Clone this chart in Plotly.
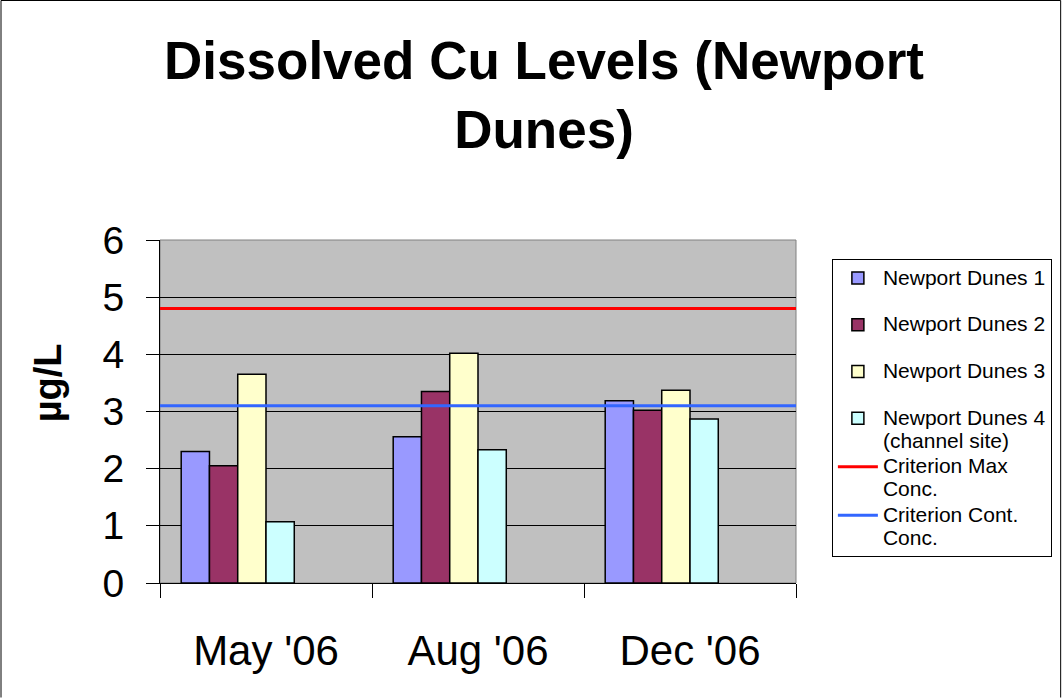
import plotly.graph_objects as go

months = ["May '06", "Aug '06", "Dec '06"]
nd1 = [2.30, 2.56, 3.19]
nd2 = [2.05, 3.35, 3.02]
nd3 = [3.65, 4.02, 3.37]
nd4 = [1.07, 2.33, 2.87]
crit_max = 4.8
crit_cont = 3.1

series_names = ["Newport Dunes 1", "Newport Dunes 2", "Newport Dunes 3",
                "Newport Dunes 4<br>(channel site)"]
series_vals = [nd1, nd2, nd3, nd4]
series_colors = ["#9999FF", "#993366", "#FFFFCC", "#CCFFFF"]
groups = ["g1", "g2", "g3", "g4"]

W, H = 1064, 698
L, R, T, B = 160, 266, 240, 115
PW, PH = W - L - R, H - T - B

LEG_SPAN = "<span style='font-size:21px'>{}</span>"

def leg(text):
    return "<br>".join(LEG_SPAN.format(t) for t in text.split("<br>"))

# Excel reserves 6 bar slots per category (the two criterion series occupy the last two)
slot_w = 0.8 / 6

fig = go.Figure()
for i, (name, vals, col, g) in enumerate(zip(series_names, series_vals, series_colors, groups)):
    fig.add_trace(go.Bar(x=months, y=vals, name=leg(name), legendgroup=g,
                         width=slot_w, offset=-0.4 + i * slot_w,
                         marker=dict(color=col, line=dict(color="#000000", width=1.5))))

fig.add_trace(go.Scatter(x=[0, 1], y=[crit_max, crit_max], mode="lines",
                         name=leg("Criterion Max<br>Conc."), legendgroup="g4",
                         xaxis="x2", line=dict(color="#FF0000", width=3)))
fig.add_trace(go.Scatter(x=[0, 1], y=[crit_cont, crit_cont], mode="lines",
                         name=leg("Criterion Cont.<br>Conc."), legendgroup="g4",
                         xaxis="x2", line=dict(color="#3366FF", width=3)))

def px(x):
    return (x - L) / PW

def py(y):
    return (H - B - y) / PH

fig.update_layout(
    width=W, height=H,
    margin=dict(l=L, r=R, t=T, b=B, pad=0),
    paper_bgcolor="white",
    plot_bgcolor="#C0C0C0",
    font=dict(family="Liberation Sans, Arial, sans-serif", color="black"),
    title=dict(text="<b>Dissolved Cu Levels (Newport<br>Dunes)</b>",
               font=dict(size=53, color="black"),
               x=544 / W, xanchor="center", xref="container",
               y=1 - 79 / H, yanchor="top", yref="container"),
    barmode="overlay",
    xaxis=dict(type="category", tickson="boundaries", ticks="outside", ticklen=14,
               tickcolor="black", tickwidth=1, showgrid=False,
               showline=True, linecolor="black", linewidth=1,
               tickfont=dict(size=42), ticklabelstandoff=31),
    xaxis2=dict(overlaying="x", range=[0, 1], visible=False),
    yaxis=dict(range=[0, 6], dtick=1, ticks="outside", ticklen=13, tickcolor="black",
               showgrid=True, gridcolor="#000000", gridwidth=1,
               showline=True, linecolor="black", linewidth=1,
               tickfont=dict(size=39), ticklabelstandoff=14,
               zeroline=False),
    legend=dict(x=px(834), y=py(259), xanchor="left", yanchor="top",
                bgcolor="white", bordercolor="black", borderwidth=1,
                font=dict(size=17.5), tracegroupgap=21, valign="top",
                itemwidth=40, traceorder="grouped"),
    annotations=[
        dict(text="<b>µg/L</b>", textangle=-90, xref="paper", yref="paper",
             x=px(48), y=py(383), xanchor="center", yanchor="middle",
             showarrow=False, font=dict(size=38, color="black")),
    ],
    shapes=[
        dict(type="rect", xref="paper", yref="paper", x0=0, x1=1, y0=0, y1=1,
             line=dict(color="#808080", width=1), layer="below"),
        dict(type="path", xref="paper", yref="paper",
             path=f"M {px(0.5)},{py(697.5)} L {px(0.5)},{py(0.5)} L {px(1063.5)},{py(0.5)} L {px(1063.5)},{py(697.5)}",
             line=dict(color="black", width=1)),
    ],
)

fig.write_html("out.html", config={"displayModeBar": False},
               post_script="document.body.style.margin='0';document.body.style.overflow='hidden';")
